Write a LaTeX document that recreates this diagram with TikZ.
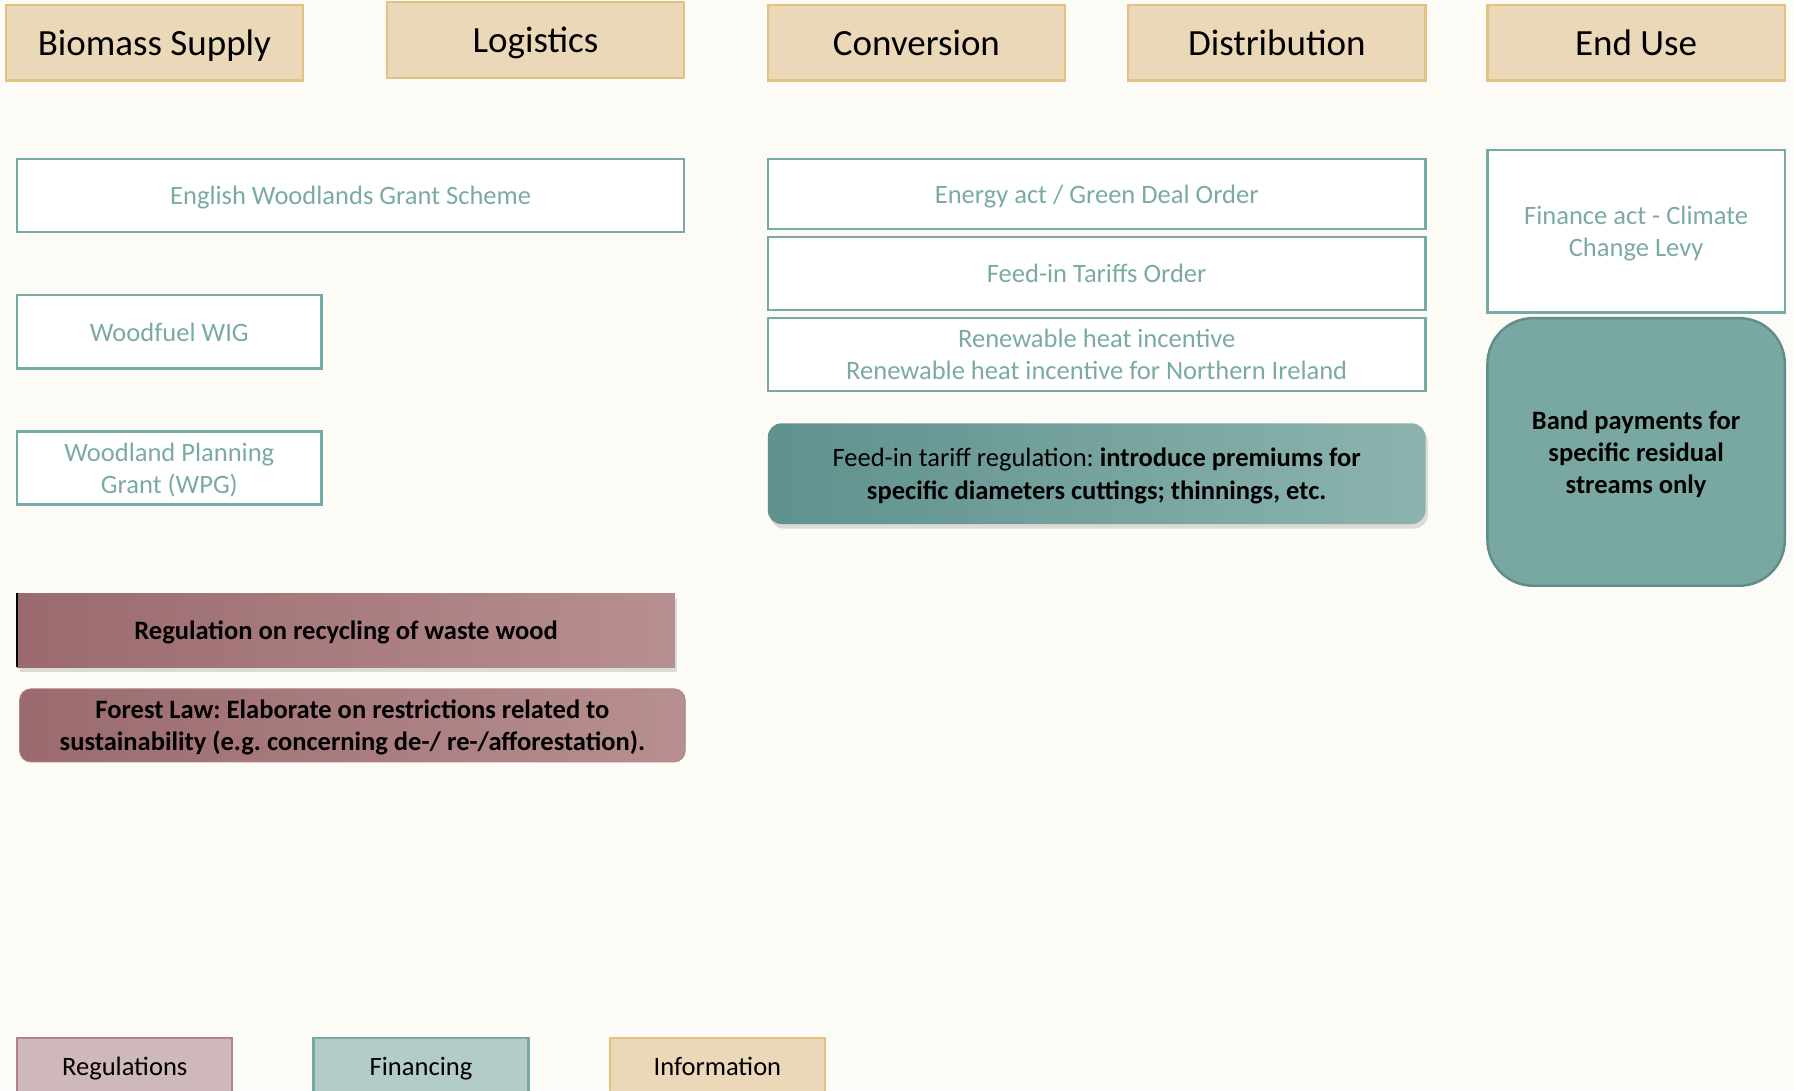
\documentclass[tikz,border=0pt]{standalone}
\usepackage{fontspec}
\setmainfont{Carlito}
\frenchspacing
\usetikzlibrary{shadows}

\definecolor{paper}{HTML}{FCFBF5}
\definecolor{sand}{HTML}{EBD8B9}
\definecolor{sandline}{HTML}{E3C183}
\definecolor{teal}{HTML}{77A9A5}
\definecolor{tealtext}{HTML}{7BAAA6}
\definecolor{tealfill}{HTML}{79A8A3}
\definecolor{tealdark}{HTML}{5E8D8A}
\definecolor{fitleft}{HTML}{5F918D}
\definecolor{fitright}{HTML}{8CB4AF}
\definecolor{regleft}{HTML}{9A6A6E}
\definecolor{regright}{HTML}{B88F90}
\definecolor{rose}{HTML}{CFB8BA}
\definecolor{roseline}{HTML}{B08488}
\definecolor{mint}{HTML}{B4CCC9}

\tikzset{
  stage/.style={draw=sandline,fill=sand,line width=1.2pt,minimum width=5.2cm,
    minimum height=1.32cm,text depth=0pt,font=\fontsize{18.4}{22}\selectfont},
  policy/.style={draw=teal,fill=white,line width=1.2pt,text=tealtext,align=center,
    minimum height=1.28cm,text depth=0pt,font=\fontsize{13.2}{16}\selectfont},
  regbox/.style={left color=regleft,right color=regright,align=center,minimum height=1.28cm,
    text depth=0pt,font=\fontsize{13.2}{16}\selectfont\bfseries},
  key/.style={line width=1.2pt,minimum width=3.76cm,minimum height=1cm,
    text depth=0pt,font=\fontsize{13.2}{16}\selectfont}
}

\begin{document}
\begin{tikzpicture}[x=0.02cm,y=-0.02cm]
  \fill[paper] (0,0) rectangle (1568,953);
  \useasboundingbox (0,0) rectangle (1568,953);

  % value chain stages
  \node[stage] (supply) at (135,37.5) {Biomass Supply};
  \node[stage] (logist) at (468,35) {Logistics};
  \node[stage] (conv) at (801,37.5) {Conversion};
  \node[stage] (distr) at (1116,37.5) {Distribution};
  \node[stage] (enduse) at (1430,37.5) {End Use};

  % existing instruments
  \node[policy,minimum width=11.66cm] (ewgs) at (306.5,171) {English Woodlands Grant Scheme};
  \node[policy,minimum width=5.32cm] (wig) at (148,290) {Woodfuel WIG};
  \node[policy,minimum width=5.32cm] (wpg) at (148,409) {Woodland Planning\\Grant (WPG)};
  \node[policy,minimum width=11.5cm,minimum height=1.22cm] (green) at (958.5,169.5) {Energy act / Green Deal Order};
  \node[policy,minimum width=11.5cm] (fito) at (958.5,239) {Feed-in Tariffs Order};
  \node[policy,minimum width=11.5cm] (rhi) at (958.5,310) {Renewable heat incentive\\Renewable heat incentive for Northern Ireland};
  \node[policy,minimum width=5.2cm,minimum height=2.84cm] (ccl) at (1430,202) {Finance act - Climate\\Change Levy};

  % proposed instruments
  \node[regbox,minimum width=11.5cm,drop shadow={opacity=.25,shadow xshift=.04cm,shadow yshift=-.08cm}]
    (waste) at (302.5,551) {Regulation on recycling of waste wood};
  \draw[black,line width=.8pt] (waste.north west) -- (waste.south west);
  \node[regbox,rounded corners=.2cm,draw=roseline,minimum width=11.64cm] (forest) at (308,634)
    {Forest Law: Elaborate on restrictions related to\\sustainability (e.g. concerning de-/ re-/afforestation).};
  \node[left color=fitleft,right color=fitright,rounded corners=.24cm,minimum width=11.5cm,minimum height=1.76cm,
    align=center,text depth=0pt,font=\fontsize{13.2}{16}\selectfont,
    drop shadow={opacity=.25,shadow xshift=.04cm,shadow yshift=-.08cm}] (fitreg) at (958.5,414)
    {Feed-in tariff regulation: \textbf{introduce premiums for}\\\textbf{specific diameters cuttings; thinnings, etc.}};
  \node[draw=tealdark,fill=tealfill,line width=1.2pt,rounded corners=.8cm,minimum width=5.2cm,minimum height=4.68cm,
    align=center,text depth=0pt,font=\fontsize{13.2}{16}\selectfont\bfseries] (band) at (1430,395)
    {Band payments for\\specific residual\\streams only};

  % legend
  \node[key,draw=roseline,fill=rose] (kreg) at (109,932) {Regulations};
  \node[key,draw=teal,fill=mint] (kfin) at (368,932) {Financing};
  \node[key,draw=sandline,fill=sand] (kinfo) at (627,932) {Information};
\end{tikzpicture}
\end{document}
